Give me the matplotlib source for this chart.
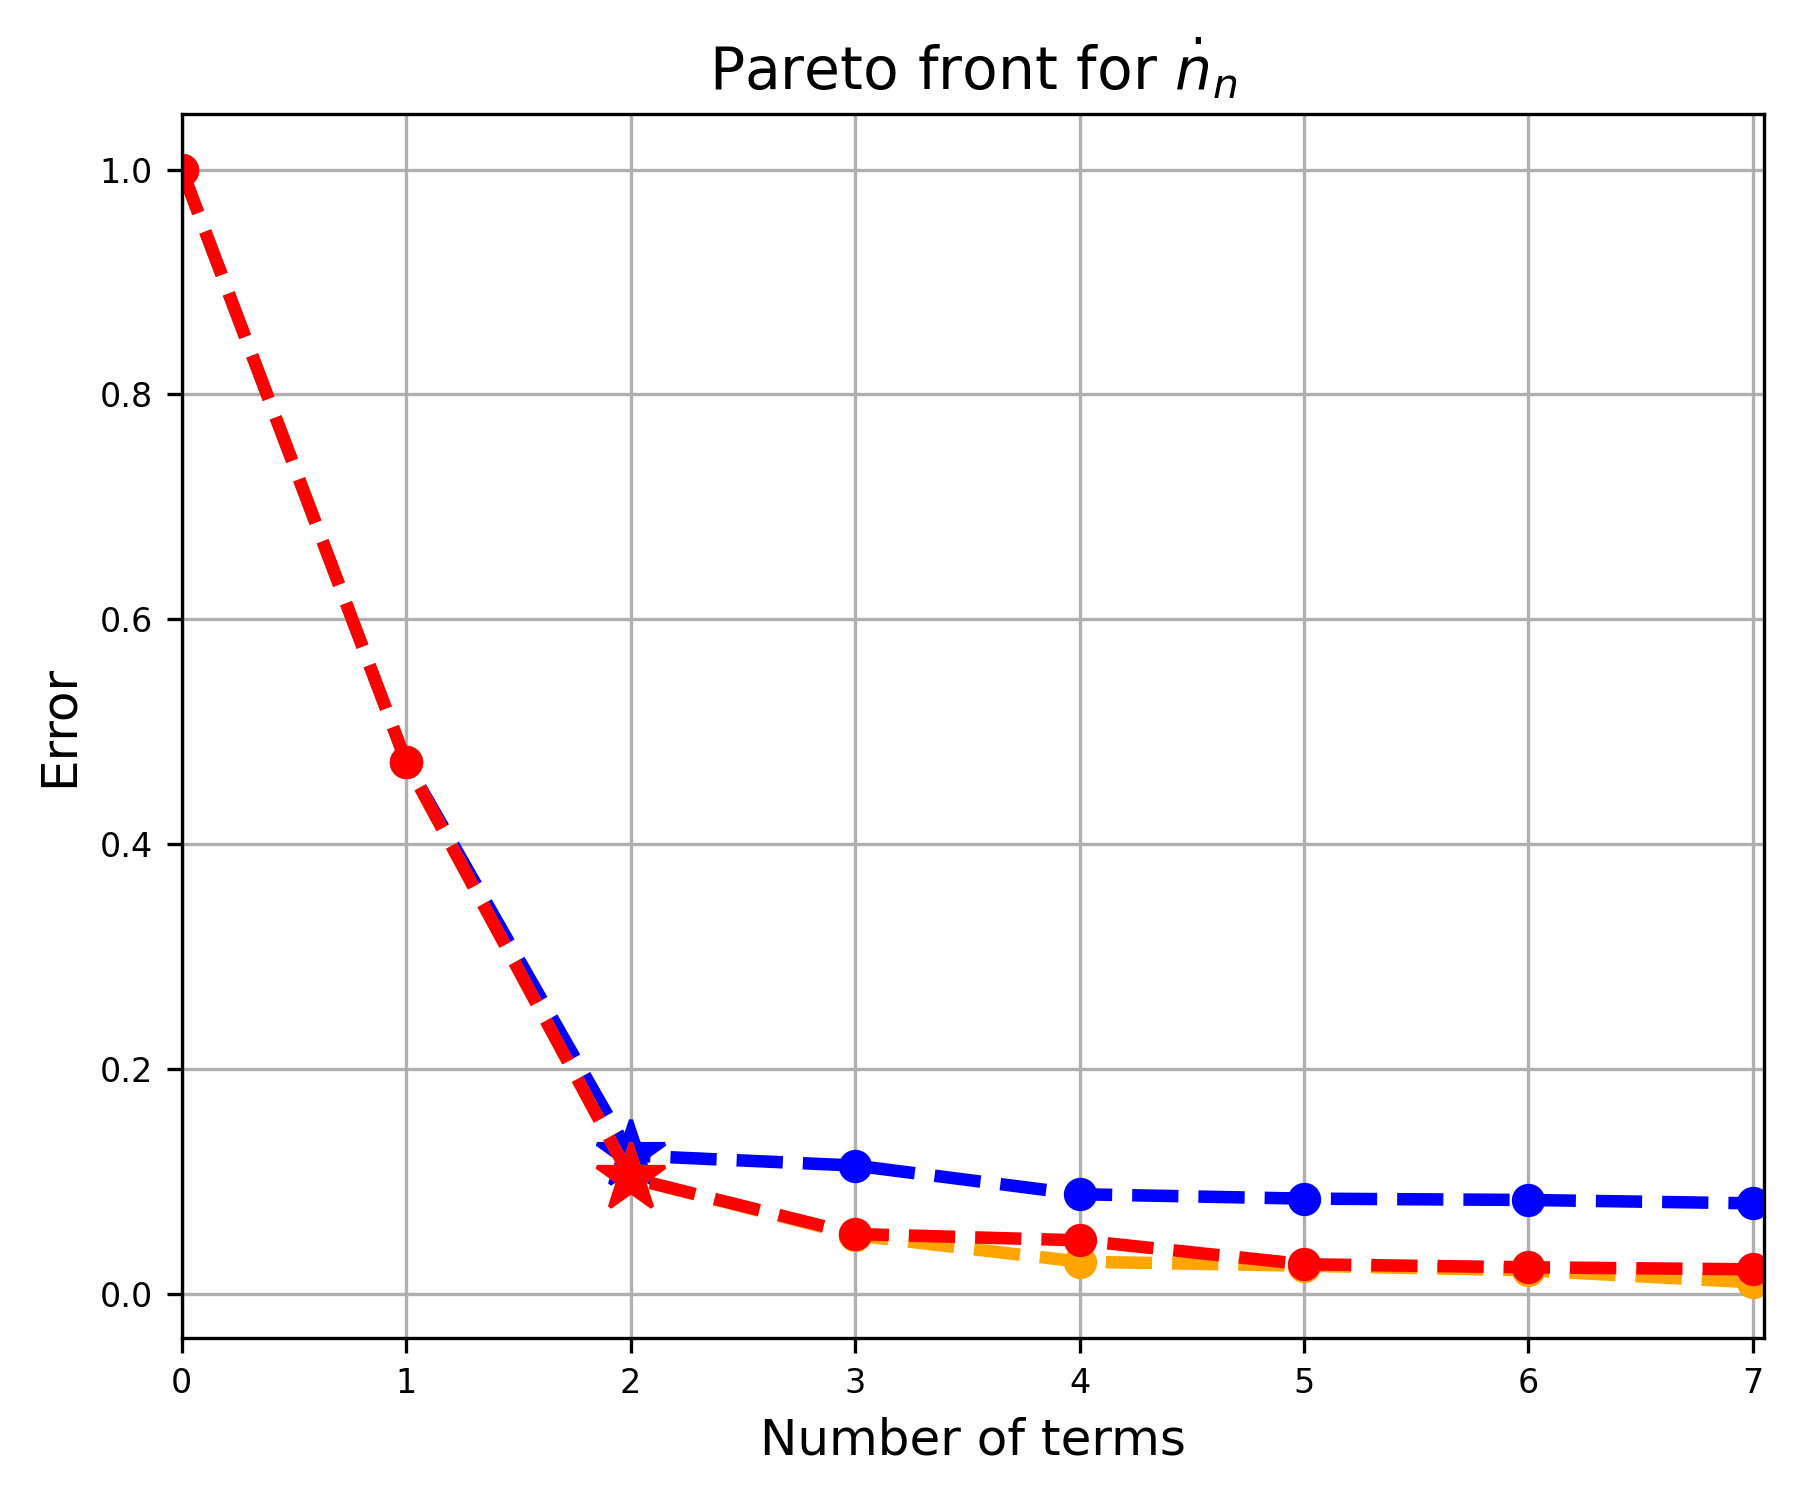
import matplotlib
matplotlib.use("Agg")
import matplotlib.pyplot as plt

# number of terms in model
n_terms = [0, 1, 2, 3, 4, 5, 6, 7]

# error for each candidate front
err_blue = [1.0, 0.473, 0.123, 0.114, 0.0885, 0.0846, 0.0834, 0.0804]
err_orange = [1.0, 0.473, 0.103, 0.052, 0.0285, 0.0249, 0.0208, 0.0101]
err_red = [1.0, 0.473, 0.103, 0.0531, 0.0475, 0.0262, 0.0235, 0.0217]

best_idx = 2

fig = plt.figure(figsize=(6, 5), dpi=300)
ax = fig.add_subplot(111)
fig.subplots_adjust(left=0.101, right=0.98, top=0.924, bottom=0.108)

for err, col in [(err_blue, 'blue'), (err_orange, 'orange'), (err_red, 'red')]:
    ax.plot(n_terms, err, 'o--', color=col, lw=3, ms=7)
    ax.plot(n_terms[best_idx], err[best_idx], '*', color=col, ms=17)

ax.set_xlim(0, 7.05)
ax.grid(True, color='#b0b0b0', lw=0.8)
ax.set_axisbelow(True)
ax.tick_params(labelsize=8)
ax.set_xlabel("Number of terms", fontsize=12)
ax.set_ylabel("Error", fontsize=12)
ax.set_title(r"Pareto front for $\dot{n}_n$", fontsize=14)

fig.savefig("out.png", dpi=300)
